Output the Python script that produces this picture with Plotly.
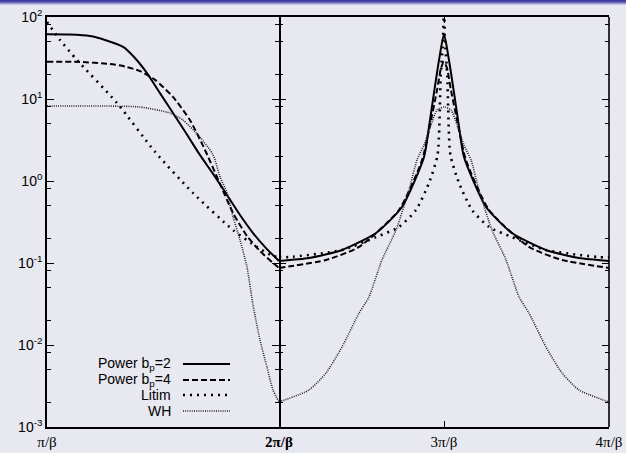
import plotly.graph_objects as go

# ---------------- data (x in units of pi/beta) ----------------
solid_left_x = [1.0, 1.099, 1.185, 1.25, 1.328, 1.379, 1.431, 1.487, 1.543, 1.599, 1.659,
                1.716, 1.776, 1.832, 1.888, 1.944, 2.0]
solid_left_y = [61.5, 61.0, 58.6, 52.5, 43.1, 31.6, 20.7, 11.8, 6.75, 3.85, 2.08,
                1.22, 0.675, 0.385, 0.232, 0.152, 0.106]

dashed_left_x = [1.0, 1.142, 1.272, 1.336, 1.401, 1.466, 1.543, 1.616, 1.681, 1.746,
                 1.802, 1.862, 1.918, 1.974, 2.0]
dashed_left_y = [28.5, 28.3, 26.7, 24.9, 21.9, 17.1, 10.6, 5.54, 2.39, 0.918,
                 0.407, 0.213, 0.140, 0.100, 0.087]

litim_left_x = [1.0, 1.056, 1.129, 1.302, 1.466, 1.629, 1.802, 1.905, 1.974, 2.0]
litim_left_y = [86.9, 52.5, 29.9, 8.93, 2.26, 0.715, 0.252, 0.157, 0.122, 0.118]

wh_left_x = [1.0, 1.272, 1.401, 1.530, 1.586, 1.659, 1.716, 1.746, 1.776, 1.802, 1.832,
             1.862, 1.888, 1.918, 1.948, 1.974, 2.0]
wh_left_y = [8.22, 8.2, 7.98, 6.75, 5.54, 3.44, 2.08, 1.12, 0.715, 0.364, 0.191,
             0.0894, 0.0308, 0.0115, 0.0054, 0.00283, 0.00202]

solid_right_x = [2.0, 2.182, 2.382, 2.588, 2.745, 2.879, 2.909, 2.939, 2.970, 3.0,
                 3.030, 3.061, 3.091, 3.121, 3.255, 3.412, 3.618, 3.818, 4.0]
solid_right_y = [0.106, 0.115, 0.144, 0.232, 0.482, 1.96, 4.56, 11.8, 29.9, 61.5,
                 29.9, 11.8, 4.56, 1.96, 0.482, 0.232, 0.144, 0.115, 0.106]

dashed_right_x = [2.0, 2.285, 2.485, 2.727, 2.867, 2.915, 2.958, 2.982, 3.0,
                  3.018, 3.042, 3.085, 3.133, 3.273, 3.515, 3.715, 4.0]
dashed_right_y = [0.087, 0.109, 0.157, 0.443, 1.80, 4.82, 12.9, 23.9, 28.5,
                  23.9, 12.9, 4.82, 1.80, 0.443, 0.157, 0.109, 0.087]

litim_right_x = [2.0, 2.06, 2.382, 2.588, 2.727, 2.830, 2.909, 2.961, 2.980, 2.994, 3.0,
                 3.006, 3.020, 3.039, 3.091, 3.170, 3.273, 3.412, 3.618, 3.940, 4.0]
litim_right_y = [0.118, 0.118, 0.144, 0.207, 0.275, 0.443, 0.946, 2.08, 18.7, 52.5, 150,
                 52.5, 18.7, 2.08, 0.946, 0.443, 0.275, 0.207, 0.144, 0.118, 0.118]

wh_right_x = [2.0, 2.182, 2.285, 2.382, 2.485, 2.545, 2.624, 2.709, 2.788, 2.836, 2.879,
              2.921, 2.958, 3.0, 3.042, 3.079, 3.121, 3.164, 3.212, 3.291, 3.376, 3.455,
              3.515, 3.618, 3.715, 3.818, 4.0]
wh_right_y = [0.00202, 0.00283, 0.00456, 0.00946, 0.0245, 0.0385, 0.109, 0.252, 0.776, 1.80, 2.75,
              4.82, 7.35, 8.0, 7.35, 4.82, 2.75, 1.80, 0.776, 0.252, 0.109, 0.0385,
              0.0245, 0.00946, 0.00456, 0.00283, 0.00202]

series_names = ["Power b<sub>p</sub>=2", "Power b<sub>p</sub>=4", "Litim", "WH"]
y_tickvals = [1e-3, 1e-2, 1e-1, 1e0, 1e1, 1e2]
y_ticktext = ["10<sup>-3</sup>", "10<sup>-2</sup>", "10<sup>-1</sup>", "10<sup>0</sup>",
              "10<sup>1</sup>", "10<sup>2</sup>"]
x_left_ticks = [1, 2]
x_left_text = ["π/β", "<b>2π/β</b>"]
x_right_ticks = [2, 3, 4]
x_right_text = ["", "3π/β", "4π/β"]

# ---------------- styles ----------------
BG = "#E8E8F1"
styles = [
    dict(color="black", width=2.0, dash="solid"),
    dict(color="black", width=2.0, dash="6px,3px"),
    dict(color="black", width=2.6, dash="2px,5px"),
    dict(color="#222222", width=1.6, dash="1px,1.2px"),
]

fig = go.Figure()
left_sets = [(solid_left_x, solid_left_y), (dashed_left_x, dashed_left_y),
             (litim_left_x, litim_left_y), (wh_left_x, wh_left_y)]
right_sets = [(solid_right_x, solid_right_y), (dashed_right_x, dashed_right_y),
              (litim_right_x, litim_right_y), (wh_right_x, wh_right_y)]
for (x, y), st, nm in zip(left_sets, styles, series_names):
    fig.add_trace(go.Scatter(x=x, y=y, mode="lines", line=dict(shape="spline", smoothing=0.6, **st),
                             name=nm, xaxis="x", yaxis="y", showlegend=False))
for (x, y), st, nm in zip(right_sets, styles, series_names):
    fig.add_trace(go.Scatter(x=x, y=y, mode="lines", line=dict(shape="spline", smoothing=0.6, **st),
                             name=nm, xaxis="x2", yaxis="y2", showlegend=False))

minor_vals = []
for e in range(-3, 2):
    for k in (2, 5, 8):
        minor_vals.append(k * 10 ** e)

W, H = 626, 453
L, R, T, B = 47, 17, 17, 26
pw = W - L - R
ph = H - T - B
split = 232 / pw
LW = 1.6

axis_common = dict(linecolor="black", linewidth=LW, ticks="inside", tickcolor="black",
                   showgrid=False, zeroline=False, automargin=False)

fig.update_layout(
    width=W, height=H,
    margin=dict(l=L, r=R, t=T, b=B, pad=0),
    paper_bgcolor=BG, plot_bgcolor=BG,
    showlegend=False,
    xaxis=dict(domain=[0, split], range=[1, 2], tickvals=x_left_ticks, ticktext=x_left_text,
               ticklen=6, tickwidth=1.2, showline=True, mirror="allticks", anchor="y",
               tickfont=dict(family="Liberation Serif", size=15, color="black"), **axis_common),
    xaxis2=dict(domain=[split, 1], range=[2, 4], tickvals=x_right_ticks, ticktext=x_right_text,
                ticklen=6, tickwidth=1.2, anchor="y2", showline=True, mirror="allticks",
                tickfont=dict(family="Liberation Serif", size=15, color="black"), **axis_common),
    yaxis=dict(type="log", range=[-3, 2], tickvals=y_tickvals, ticktext=y_ticktext,
               ticklen=7, tickwidth=1.2, anchor="x", showline=True, mirror="allticks",
               minor=dict(tickvals=minor_vals, ticklen=4, ticks="inside", tickcolor="black", tickwidth=1),
               tickfont=dict(family="Liberation Sans", size=14, color="black"), **axis_common),
    yaxis2=dict(type="log", range=[-3, 2], tickvals=y_tickvals, showticklabels=False,
                ticklen=7, tickwidth=1.2, anchor="x2", matches="y", showline=False, mirror="allticks",
                minor=dict(tickvals=minor_vals, ticklen=4, ticks="inside", tickcolor="black", tickwidth=1),
                **axis_common),
)

# right frame edge of the right panel
fig.add_shape(type="line", xref="x2 domain", yref="y2 domain", x0=1, x1=1, y0=0, y1=1,
              line=dict(color="black", width=LW))

# legend drawn manually: right-aligned text with line sample to its right
text_right = (172 - L) / pw
s0, s1 = (183 - L) / pw, (230 - L) / pw
rows_px = [364, 380, 395, 411]
for nm, st, py in zip(series_names, styles, rows_px):
    yp = (H - B - py) / ph
    fig.add_annotation(x=text_right, y=yp, xref="paper", yref="paper", text=nm,
                       showarrow=False, xanchor="right", yanchor="middle", borderpad=0,
                       font=dict(family="Liberation Sans", size=14, color="black"))
    fig.add_shape(type="line", xref="paper", yref="paper", x0=s0, x1=s1, y0=yp, y1=yp,
                  line=dict(color=st["color"], width=st["width"], dash=st["dash"]))

# slide header strip (gradient)
strip_cols = ["#3a3a9c", "#4d4daa", "#6a6abc", "#9898d2", "#c6c6e6"]
for i, c in enumerate(strip_cols):
    y_top = 1 + (T - i) / ph
    y_bot = 1 + (T - i - 1) / ph
    fig.add_shape(type="rect", xref="paper", yref="paper", x0=-L / pw, x1=1 + R / pw,
                  y0=y_bot, y1=y_top, line=dict(width=0), fillcolor=c, layer="above")

fig.write_html("out.html", config={"displayModeBar": False},
               post_script="document.body.style.margin='0';document.body.style.overflow='hidden';")
